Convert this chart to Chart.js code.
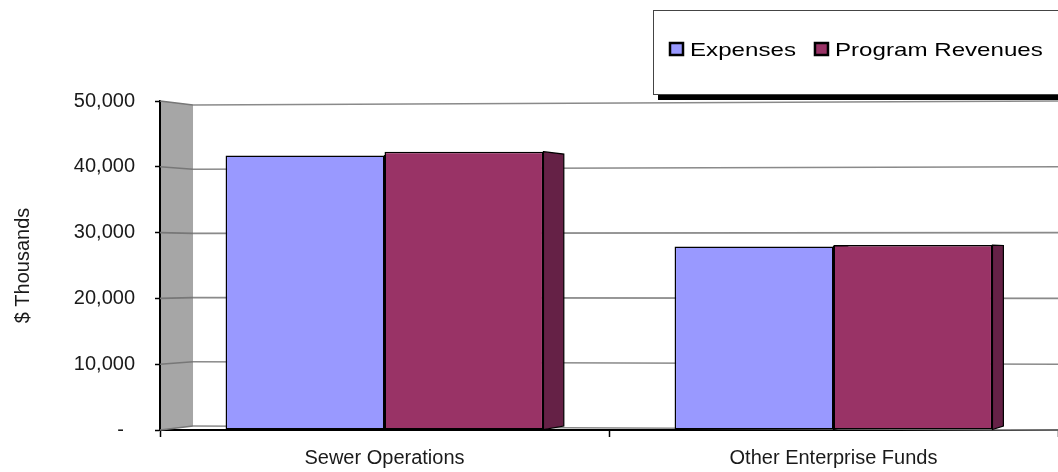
<!DOCTYPE html>
<html>
<head>
<meta charset="utf-8">
<script src="https://cdn.jsdelivr.net/npm/chart.js@4/dist/chart.umd.min.js"></script>
<style>
  body { margin: 0; background: #fff; }
  #wrap { position: relative; width: 1058px; height: 472px; }
</style>
</head>
<body>
<div id="wrap"><canvas id="myChart"></canvas></div>
<script>
var categories = ["Sewer Operations", "Other Enterprise Funds"];
var expenses = [41700, 27900];
var programRevenues = [42300, 28100];
var seriesNames = ["Expenses", "Program Revenues"];
var yTicks = [0, 10000, 20000, 30000, 40000, 50000];

var barColors = ["#9999ff", "#993366"];
var sideColor = "#652146";

// vanishing point of the fake 3D view
var vp = { x: 1513, y: 265 };
var wallDepth = 0.0244;
var barDepth = 0.021;

function back(x, y, f) {
    return { x: x + f * (vp.x - x), y: y + f * (vp.y - y) };
}

const fake3d = {
    id: 'fake3d',
    beforeDatasetsDraw(chart) {
        var ctx = chart.ctx;
        var area = chart.chartArea;
        var ys = chart.scales.y;
        var top = ys.getPixelForValue(50000);
        var bot = ys.getPixelForValue(0);
        var bt = back(area.left, top, wallDepth);
        var bb = back(area.left, bot, wallDepth);
        ctx.save();
        // side wall
        ctx.fillStyle = '#a6a6a6';
        ctx.beginPath();
        ctx.moveTo(area.left + 1, top);
        ctx.lineTo(bt.x, bt.y);
        ctx.lineTo(bb.x, bb.y);
        ctx.lineTo(area.left + 1, bot);
        ctx.closePath();
        ctx.fill();
        // gridlines: along the wall, then across the back
        yTicks.forEach(function (v) {
            var yf = ys.getPixelForValue(v);
            var b = back(area.left, yf, wallDepth);
            ctx.strokeStyle = '#777';
            ctx.lineWidth = 1.6;
            ctx.beginPath();
            ctx.moveTo(area.left, yf);
            ctx.lineTo(b.x, b.y);
            ctx.stroke();
            ctx.strokeStyle = '#8a8a8a';
            ctx.beginPath();
            ctx.moveTo(b.x, b.y);
            ctx.lineTo(area.right, yf);
            ctx.stroke();
        });
        // bar side faces
        chart.data.datasets.forEach(function (ds, i) {
            chart.getDatasetMeta(i).data.forEach(function (bar) {
                var r = bar.x + bar.width / 2;
                var t = back(r, bar.y, barDepth);
                var b = back(r, bar.base, barDepth);
                ctx.fillStyle = sideColor;
                ctx.strokeStyle = '#000';
                ctx.lineWidth = 1.2;
                ctx.beginPath();
                ctx.moveTo(r, bar.y);
                ctx.lineTo(t.x, t.y);
                ctx.lineTo(b.x, b.y);
                ctx.lineTo(r, bar.base);
                ctx.closePath();
                ctx.fill();
                ctx.stroke();
            });
        });
        ctx.restore();
    },
    afterDraw(chart) {
        // legend box with shadow
        var ctx = chart.ctx;
        ctx.save();
        ctx.fillStyle = '#000';
        ctx.fillRect(658, 91, 420, 9);
        ctx.fillStyle = '#fff';
        ctx.fillRect(653, 10, 420, 85);
        ctx.strokeStyle = '#444';
        ctx.lineWidth = 1;
        ctx.strokeRect(653.5, 10.5, 420, 84);
        ctx.font = '19px "Liberation Sans", Arial, sans-serif';
        ctx.textBaseline = 'alphabetic';
        var x = 670;
        var stretch = 1.27;
        chart.data.datasets.forEach(function (ds, i) {
            ctx.fillStyle = ds.backgroundColor;
            ctx.strokeStyle = '#000';
            ctx.lineWidth = 2.5;
            ctx.fillRect(x, 43, 13, 12);
            ctx.strokeRect(x, 43, 13, 12);
            ctx.fillStyle = '#000';
            ctx.save();
            ctx.translate(x + 20, 56);
            ctx.scale(stretch, 1);
            ctx.fillText(ds.label, 0, 0);
            ctx.restore();
            x += 20 + ctx.measureText(ds.label).width * stretch + 19;
        });
        ctx.restore();
    }
};

new Chart("myChart", {
    type: "bar",
    data: {
        labels: categories,
        datasets: [{
            label: seriesNames[0],
            data: expenses,
            backgroundColor: barColors[0],
            borderColor: "#000",
            borderWidth: 1.5,
            borderSkipped: false
        }, {
            label: seriesNames[1],
            data: programRevenues,
            backgroundColor: barColors[1],
            borderColor: "#000",
            borderWidth: 1.5,
            borderSkipped: false
        }]
    },
    options: {
        responsive: true,
        maintainAspectRatio: false,
        animation: false,
        layout: { padding: { top: 101, right: 0, left: 0, bottom: 0 } },
        datasets: { bar: { barPercentage: 1, categoryPercentage: 0.708 } },
        plugins: {
            legend: { display: false },
            tooltip: { enabled: false }
        },
        scales: {
            x: {
                afterFit: function (s) { s.height = 42; },
                grid: { drawOnChartArea: false, tickLength: 7, tickColor: '#000', tickWidth: 1.5 },
                border: { color: '#000', width: 2 },
                ticks: {
                    color: '#1a1a1a',
                    padding: 9,
                    font: { family: '"Liberation Sans", Arial, sans-serif', size: 20 }
                }
            },
            y: {
                min: 0,
                max: 50000,
                afterFit: function (s) { s.width = 160; },
                afterBuildTicks: function (s) {
                    s.ticks = yTicks.map(function (v) { return { value: v }; });
                },
                grid: { drawOnChartArea: false, tickLength: 5, tickColor: '#000', tickWidth: 1.5 },
                border: { color: '#000', width: 2 },
                title: {
                    display: true,
                    text: '$ Thousands',
                    color: '#1a1a1a',
                    padding: { top: 11, bottom: 0 },
                    font: { family: '"Liberation Sans", Arial, sans-serif', size: 20 }
                },
                ticks: {
                    color: '#1a1a1a',
                    padding: 20,
                    font: { family: '"Liberation Sans", Arial, sans-serif', size: 20 },
                    callback: function (v) {
                        return v === 0 ? '-  ' : v.toLocaleString('en-US');
                    }
                }
            }
        }
    },
    plugins: [fake3d]
});
</script>
</body>
</html>
